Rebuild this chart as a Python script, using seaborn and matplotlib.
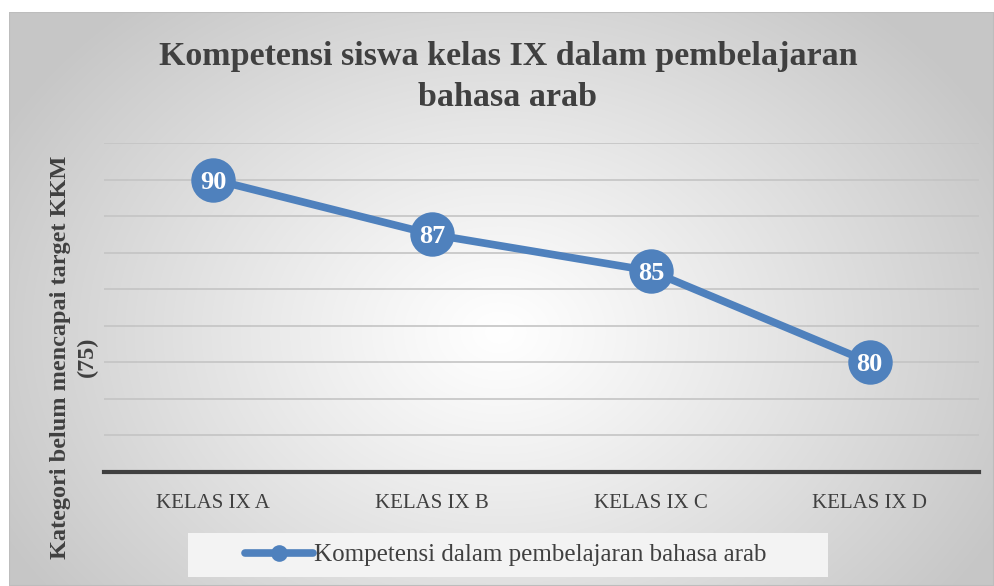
import numpy as np
import pandas as pd
import matplotlib.pyplot as plt
import seaborn as sns

# data
kelas = ['KELAS IX A', 'KELAS IX B', 'KELAS IX C', 'KELAS IX D']
nilai = [90, 87, 85, 80]
series_name = 'Kompetensi dalam pembelajaran bahasa arab'

df = pd.DataFrame({'kelas': kelas, 'nilai': nilai, 'seri': series_name})

sns.set_theme(style='white')
plt.rcParams['font.family'] = ['Liberation Serif', 'DejaVu Serif']

blue = '#4f81bd'
fig = plt.figure(figsize=(9.94, 5.86), dpi=100)

# radial gradient background (white centre, light grey edges)
bg = fig.add_axes([9 / 994, 0, 985 / 994, 574 / 586])
yy, xx = np.mgrid[0:574, 0:985]
d = np.sqrt((xx - 490) ** 2 + ((yy - 320) * 1.3) ** 2) / 560
g = 1 - 0.22 * np.clip(d, 0, 1) ** 1.1
bg.imshow(np.dstack([g, g, g]), aspect='auto', extent=[0, 1, 0, 1])
bg.set_axis_off()
bg.add_patch(plt.Rectangle((0, 0), 1, 1, transform=bg.transAxes, fill=False,
                           edgecolor='#bdbdbd', lw=1.5))
# light box behind the legend
bg.add_patch(plt.Rectangle(((188 - 9) / 985, 9 / 574), 640 / 985, 44 / 574,
                           transform=bg.transAxes, facecolor='#f3f3f3',
                           edgecolor='none'))

ax = fig.add_axes([104 / 994, 1 - 472 / 586, 875 / 994, 329 / 586])
ax.patch.set_alpha(0)

sns.lineplot(data=df, x='kelas', y='nilai', hue='seri', palette=[blue],
             marker='o', markersize=32, linewidth=5.5, markeredgewidth=0,
             ax=ax, sort=False)

for i, v in enumerate(nilai):
    ax.text(i, v, str(v), ha='center', va='center_baseline', color='white',
            fontsize=19, fontweight='bold')

ax.set_xlim(-0.5, len(kelas) - 0.5)
ax.set_ylim(74, 92)
ax.set_yticks(np.arange(76, 93, 2))
ax.set_yticklabels([])
ax.yaxis.grid(True, color='#c4c4c4', lw=1.2)
ax.tick_params(axis='both', length=0)
ax.tick_params(axis='x', labelsize=15, colors='#404040', pad=16)
for s in ['top', 'right', 'left']:
    ax.spines[s].set_visible(False)
ax.spines['bottom'].set_color('#404040')
ax.spines['bottom'].set_linewidth(3)
ax.set_xlabel('')
ax.set_ylabel('')

fig.text(74 / 994, 1 - 357 / 586, 'Kategori belum mencapai target KKM\n(75)',
         rotation=90, ha='center', va='center', multialignment='center',
         fontsize=17.5, fontweight='bold', color='#404040', linespacing=1.3)

fig.text(508 / 994, 1 - 77 / 586,
         'Kompetensi siswa kelas IX dalam pembelajaran\nbahasa arab',
         ha='center', va='center', fontsize=24.5, fontweight='bold',
         color='#404040', linespacing=1.4)

leg = ax.legend(loc='center', bbox_to_anchor=(506 / 994, 1 - 555 / 586),
                bbox_transform=fig.transFigure, frameon=False, fontsize=18,
                handlelength=2.7, handletextpad=0.05, borderpad=0.2)
for t in leg.get_texts():
    t.set_color('#404040')
for h in leg.legend_handles:
    h.set_markersize(12)
    h.set_linewidth(5.5)

fig.savefig('out.png', dpi=100)
